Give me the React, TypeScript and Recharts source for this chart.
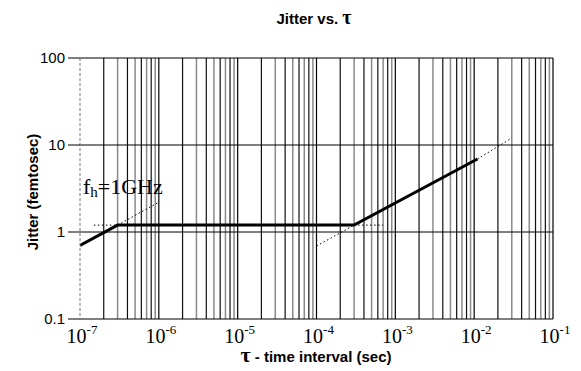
import React from 'react';
import { LineChart, Line, XAxis, YAxis, ReferenceLine } from 'recharts';

// decade ticks on the time axis and their exponent labels
const xDecades = [1e-7, 1e-6, 1e-5, 1e-4, 1e-3, 1e-2, 1e-1];
const xExponents = ['-7', '-6', '-5', '-4', '-3', '-2', '-1'];
const gridMultipliers = [2, 3, 4, 5, 6, 7, 8, 9];

const yTicks = [0.1, 1, 10, 100];
const yTickLabels = ['0.1', '1', '10', '100'];

// solid jitter curve
const jitterTau = [1e-7, 3e-7, 3e-4, 1.1e-2];
const jitterFs = [0.7, 1.2, 1.2, 6.9];

// dotted asymptote guides
const guideA_tau = [3e-7, 1e-6];
const guideA_fs = [1.2, 2.2];
const guideB_tau = [1.5e-7, 3e-7];
const guideB_fs = [1.2, 1.2];
const guideC_tau = [1e-4, 3e-4];
const guideC_fs = [0.69, 1.2];
const guideD_tau = [3e-4, 7e-4];
const guideD_fs = [1.2, 1.2];
const guideE_tau = [1.1e-2, 3e-2];
const guideE_fs = [6.9, 12];

const toPoints = (xs: number[], ys: number[]) => xs.map((x, i) => ({ x, y: ys[i] }));

const minorGrid: { v: number; dark: boolean }[] = [];
xDecades.slice(0, -1).forEach((d) => {
  gridMultipliers.forEach((m, j) => minorGrid.push({ v: d * m, dark: j % 2 === 0 }));
});

const XTick = (props: any) => {
  const { x, y, payload } = props;
  const exp = xExponents[payload.index] ?? '';
  return (
    <text x={x + 2} y={y + 16} textAnchor="middle" fontFamily="'Liberation Serif', serif" fontSize={20} fill="#000">
      10<tspan dy={-9} fontSize={13}>{exp}</tspan>
    </text>
  );
};

const YTick = (props: any) => {
  const { x, y, payload } = props;
  return (
    <text x={x - 1} y={y + 5} textAnchor="end" fontFamily="'Liberation Sans', Arial, sans-serif" fontSize={15} fill="#000">
      {yTickLabels[payload.index]}
    </text>
  );
};

const dotted = { stroke: '#000', strokeWidth: 1, strokeDasharray: '1.5 2.5' };
const sans = "'Liberation Sans', Arial, sans-serif";

export default function App() {
  return (
    <div style={{ position: 'absolute', left: 0, top: 0, width: 581, height: 371, background: '#fff' }}>
      <div
        style={{
          position: 'absolute', left: 0, width: 628, top: 6, textAlign: 'center',
          fontFamily: sans, fontWeight: 'bold', fontSize: 15,
        }}
      >
        Jitter vs. <span style={{ fontFamily: "'Liberation Serif', serif", fontSize: 20 }}>τ</span>
      </div>
      <div
        style={{
          position: 'absolute', left: 32, top: 192, transform: 'translate(-50%, -50%) rotate(-90deg)',
          whiteSpace: 'nowrap', fontFamily: sans, fontWeight: 'bold', fontSize: 15,
        }}
      >
        Jitter (femtosec)
      </div>
      <div
        style={{
          position: 'absolute', left: 0, width: 632, top: 342, textAlign: 'center',
          fontFamily: sans, fontWeight: 'bold', fontSize: 15,
        }}
      >
        <span style={{ fontFamily: "'Liberation Serif', serif", fontSize: 22 }}>τ</span> - time interval (sec)
      </div>
      <LineChart width={581} height={371} margin={{ top: 58, right: 28, bottom: 22, left: 22 }}>
        <XAxis
          dataKey="x"
          type="number"
          scale="log"
          domain={[1e-7, 1e-1]}
          ticks={xDecades}
          allowDataOverflow
          height={30}
          tick={<XTick />}
          tickLine={false}
          axisLine={{ stroke: '#000' }}
          interval={0}
        />
        <YAxis
          type="number"
          scale="log"
          domain={[0.1, 100]}
          ticks={yTicks}
          allowDataOverflow
          width={58}
          tick={<YTick />}
          tickSize={12}
          tickLine={{ stroke: '#000' }}
          axisLine={{ stroke: '#777', strokeDasharray: '3 2' }}
          interval={0}
        />
        {minorGrid.map((g) => (
          <ReferenceLine key={g.v} x={g.v} stroke={g.dark ? '#111' : '#8a8a8a'} strokeWidth={g.dark ? 1.2 : 1.5} />
        ))}
        {xDecades.slice(1).map((d) => (
          <ReferenceLine key={'d' + d} x={d} stroke="#000" strokeWidth={1.2} />
        ))}
        {yTicks.slice(1).map((t) => (
          <ReferenceLine key={'h' + t} y={t} stroke="#000" strokeWidth={1} />
        ))}
        <Line data={toPoints(guideA_tau, guideA_fs)} dataKey="y" {...dotted} dot={false} isAnimationActive={false} />
        <Line data={toPoints(guideB_tau, guideB_fs)} dataKey="y" {...dotted} dot={false} isAnimationActive={false} />
        <Line data={toPoints(guideC_tau, guideC_fs)} dataKey="y" {...dotted} dot={false} isAnimationActive={false} />
        <Line data={toPoints(guideD_tau, guideD_fs)} dataKey="y" {...dotted} dot={false} isAnimationActive={false} />
        <Line data={toPoints(guideE_tau, guideE_fs)} dataKey="y" {...dotted} dot={false} isAnimationActive={false} />
        <Line
          data={toPoints(jitterTau, jitterFs)}
          dataKey="y"
          stroke="#000"
          strokeWidth={3}
          dot={false}
          isAnimationActive={false}
        />
      </LineChart>
      <div
        style={{
          position: 'absolute', left: 83, top: 174, fontFamily: "'Liberation Serif', serif", fontSize: 22,
          whiteSpace: 'nowrap', lineHeight: '26px',
        }}
      >
        f<sub style={{ fontSize: 15, verticalAlign: '-3px' }}>h</sub>=1GHz
      </div>
    </div>
  );
}
